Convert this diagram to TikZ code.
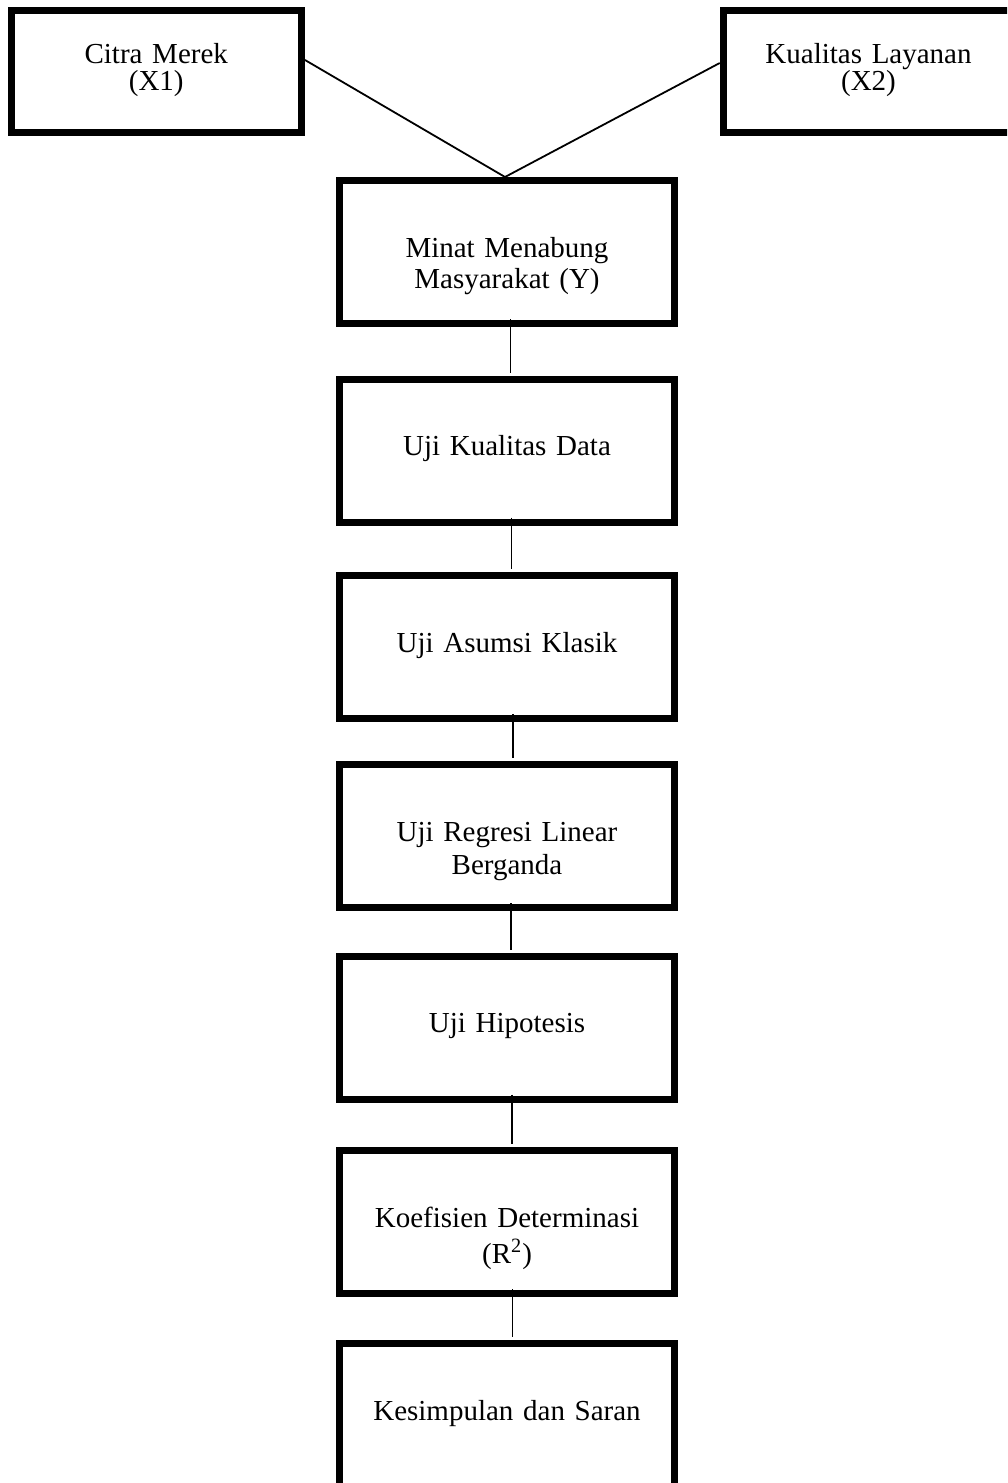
\documentclass[tikz,border=0pt]{standalone}
\usepackage{fontspec}
\setmainfont{Liberation Serif}
\usepackage{tikz}
\usetikzlibrary{positioning}

\tikzset{
  kotak/.style={draw, line width=3.5pt, inner xsep=0pt, inner ysep=0pt,
    text width=160pt, minimum width=167.25pt,
    execute at begin node=\centering,
    font=\fontsize{14.5}{15.5}\selectfont,
    text height=38.25pt, text depth=33.25pt},
  kotakatas/.style={kotak, text width=140pt, minimum width=145.25pt,
    font=\fontsize{14.5}{13.5}\selectfont,
    text height=26.5pt, text depth=34.5pt},
  garis/.style={line width=0.9pt},
}

\begin{document}
\begin{tikzpicture}
  \useasboundingbox (0,0) rectangle (503.5pt,-741.5pt);
  \clip (0,0) rectangle (503.5pt,-741.5pt);

  % Variabel bebas
  \node[kotakatas] (citra) at (78.125pt,-35.75pt) {Citra Merek\\(X1)};
  \node[kotakatas] (layanan) at (434.25pt,-35.75pt) {Kualitas Layanan\\(X2)};

  % Variabel terikat dan tahap analisis
  \node[kotak] (minat) at (253.5pt,-126pt) {Minat Menabung\\Masyarakat (Y)};
  \node[kotak, below=24.25pt of minat] (kualitas) {Uji Kualitas Data};
  \node[kotak, below=23.25pt of kualitas] (asumsi) {Uji Asumsi Klasik};
  \node[kotak, below=19.5pt of asumsi] (regresi) {Uji Regresi Linear\\[1pt]Berganda};
  \node[kotak, below=20.75pt of regresi] (hipotesis) {Uji Hipotesis};
  \node[kotak, below=22.25pt of hipotesis] (koefisien) {Koefisien Determinasi\\[2.5pt](R\textsuperscript{2})};
  \node[kotak, below=21.5pt of koefisien] (kesimpulan) {Kesimpulan dan Saran};

  % Garis penghubung
  \draw[garis] ([yshift=5.75pt]citra.east) -- ([xshift=-1pt]minat.north);
  \draw[garis] ([yshift=4.25pt]layanan.west) -- ([xshift=-1pt]minat.north);
  \draw[garis, shorten <=-4pt, shorten >=1.5pt] ([xshift=1.75pt]minat.south) -- ([xshift=1.75pt]kualitas.north);
  \draw[garis, shorten <=-4pt, shorten >=1.5pt] ([xshift=2.25pt]kualitas.south) -- ([xshift=2.25pt]asumsi.north);
  \draw[garis, shorten <=-4pt, shorten >=1.5pt] ([xshift=3pt]asumsi.south) -- ([xshift=3pt]regresi.north);
  \draw[garis, shorten <=-4pt, shorten >=1.5pt] ([xshift=2pt]regresi.south) -- ([xshift=2pt]hipotesis.north);
  \draw[garis, shorten <=-4pt, shorten >=1.5pt] ([xshift=2.5pt]hipotesis.south) -- ([xshift=2.5pt]koefisien.north);
  \draw[garis, shorten <=-4pt, shorten >=1.5pt] ([xshift=2.75pt]koefisien.south) -- ([xshift=2.75pt]kesimpulan.north);
\end{tikzpicture}
\end{document}
